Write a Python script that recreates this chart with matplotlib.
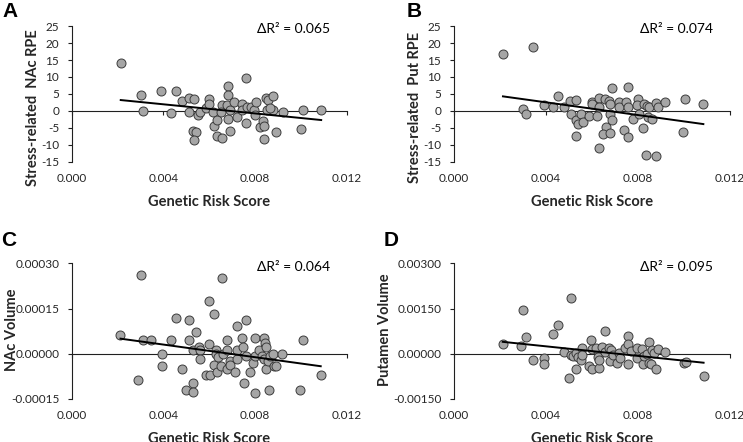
import matplotlib.pyplot as plt
import numpy as np
from matplotlib.ticker import FormatStrFormatter

plt.rcParams['font.family'] = ['Lato', 'DejaVu Sans']

# panel A: stress-related NAc RPE
a_x = [0.00214, 0.00303, 0.00313, 0.00391, 0.00433, 0.00454, 0.00480, 0.00510, 0.00512, 0.00532,
       0.00528, 0.00544, 0.00532, 0.00551, 0.00560, 0.00586, 0.00601, 0.00601, 0.00618, 0.00623,
       0.00636, 0.00633, 0.00655, 0.00657, 0.00650, 0.00681, 0.00681, 0.00679, 0.00681, 0.00692,
       0.00691, 0.00710, 0.00721, 0.00742, 0.00745, 0.00761, 0.00761, 0.00764, 0.00783, 0.00797,
       0.00800, 0.00803, 0.00822, 0.00833, 0.00840, 0.00839, 0.00848, 0.00858, 0.00851, 0.00880,
       0.00880, 0.00890, 0.00921, 0.01001, 0.01011, 0.01089, 0.00865]
a_y = [14.2, 4.6, -0.1, 5.9, -0.5, 6.0, 2.8, 3.9, -0.2, 3.4,
       -6.0, -6.1, -8.5, -1.3, -0.3, 0.9, 3.4, 1.9, -0.3, -4.5,
       -2.8, -7.5, -8.0, 1.7, -0.3, 7.3, 4.8, 1.6, -2.5, -6.0,
       0.2, 2.5, -1.8, 1.9, 0.4, 9.8, -3.5, 1.0, 1.2, 0.2,
       -1.3, 2.5, -4.8, -2.9, -4.4, -8.4, 3.9, 3.3, 0.4, 4.4,
       0.2, -6.3, -0.3, -5.4, 0.2, 0.2, 0.8]

# panel B: stress-related Put RPE
b_x = [0.00214, 0.00344, 0.00301, 0.00313, 0.00390, 0.00431, 0.00451, 0.00479, 0.00507, 0.00531,
       0.00510, 0.00531, 0.00532, 0.00540, 0.00551, 0.00560, 0.00587, 0.00599, 0.00600, 0.00621,
       0.00631, 0.00631, 0.00632, 0.00657, 0.00660, 0.00649, 0.00675, 0.00677, 0.00677, 0.00678,
       0.00689, 0.00687, 0.00716, 0.00719, 0.00740, 0.00748, 0.00757, 0.00757, 0.00757, 0.00777,
       0.00799, 0.00796, 0.00803, 0.00821, 0.00828, 0.00835, 0.00840, 0.00844, 0.00850, 0.00859,
       0.00878, 0.00878, 0.00888, 0.00918, 0.00996, 0.01006, 0.01084]
b_y = [16.7, 18.9, 0.7, -1.0, 1.6, 1.0, 4.4, 1.2, 2.9, 3.3,
       -1.0, -2.8, -7.5, -3.9, -0.9, -3.3, -1.6, 2.7, 2.0, -1.6,
       3.9, 1.2, -11.0, 3.6, -4.7, -6.9, 2.9, 2.0, -0.8, -6.4,
       6.8, -2.8, 2.5, 1.0, -5.5, 2.5, 7.1, 1.2, -7.7, -2.3,
       3.4, 1.7, -0.8, -4.9, 2.0, -12.9, 1.4, -1.8, 1.2, -2.3,
       2.2, -13.2, 1.0, 2.7, -6.1, 3.6, 2.0]

# panel C: NAc volume (units of 1e-5)
c_x = [0.00213, 0.00302, 0.00290, 0.00312, 0.00344, 0.00392, 0.00392, 0.00432, 0.00454, 0.00480,
       0.00501, 0.00512, 0.00512, 0.00531, 0.00531, 0.00530, 0.00544, 0.00554, 0.00560, 0.00560,
       0.00588, 0.00600, 0.00600, 0.00603, 0.00620, 0.00623, 0.00631, 0.00631, 0.00634, 0.00640,
       0.00657, 0.00650, 0.00660, 0.00679, 0.00679, 0.00679, 0.00689, 0.00691, 0.00711, 0.00721,
       0.00721, 0.00721, 0.00743, 0.00750, 0.00748, 0.00759, 0.00759, 0.00779, 0.00791, 0.00799,
       0.00799, 0.00798, 0.00819, 0.00831, 0.00838, 0.00838, 0.00845, 0.00848, 0.00848, 0.00856,
       0.00860, 0.00866, 0.00878, 0.00881, 0.00892, 0.00918, 0.00998, 0.01008, 0.01087]
c_y = [6.1, 26.1, -8.8, 4.4, 4.4, 0.0, -3.9, 4.4, 11.9, -4.9,
       -12.1, 11.3, 4.4, -9.8, -12.8, 1.1, 7.2, 2.2, 1.4, -1.7,
       -6.9, 17.4, 3.1, -6.9, 13.1, -3.8, 1.1, -0.2, -6.1, -1.1,
       25.0, -4.1, -0.2, 4.4, 1.1, -5.0, -2.4, -3.8, -6.1, 9.1,
       1.4, -1.7, 5.2, -9.8, 2.2, 11.3, -0.8, -6.1, -3.0, 5.3,
       -12.9, -0.8, 1.1, -0.8, 5.3, -1.7, 3.6, 2.2, -5.0, -2.4,
       -12.1, -0.8, 0.0, -3.9, -3.9, 0.0, -12.1, 4.4, -6.9]

# panel D: putamen volume (units of 1e-4)
d_x = [0.00213, 0.00291, 0.00301, 0.00312, 0.00343, 0.00390, 0.00390, 0.00431, 0.00451, 0.00477,
       0.00499, 0.00509, 0.00508, 0.00518, 0.00531, 0.00531, 0.00541, 0.00554, 0.00557, 0.00557,
       0.00586, 0.00597, 0.00600, 0.00600, 0.00620, 0.00626, 0.00629, 0.00632, 0.00646, 0.00658,
       0.00658, 0.00675, 0.00677, 0.00684, 0.00690, 0.00707, 0.00716, 0.00723, 0.00745, 0.00756,
       0.00756, 0.00756, 0.00771, 0.00795, 0.00795, 0.00817, 0.00824, 0.00828, 0.00840, 0.00846,
       0.00849, 0.00860, 0.00857, 0.00869, 0.00878, 0.00887, 0.00918, 0.00998, 0.01008, 0.01085]
d_y = [3.3, 2.7, 14.5, 5.5, -2.2, -1.3, -3.5, 6.6, 9.7, 0.6,
       -8.0, 18.6, -0.4, -0.8, -5.2, 0.3, -1.1, -2.2, 2.0, -0.4,
       -3.9, 4.5, -4.9, 1.5, 1.8, -1.1, -4.6, -2.2, 2.4, 7.5,
       0.6, 2.0, -2.4, 1.1, -0.4, -3.0, 0.3, -1.3, 2.0, 5.9,
       3.3, -3.5, 0.9, 2.0, -1.3, 1.7, -3.5, -0.8, 0.0, 4.0,
       -3.0, 1.1, -3.5, 0.3, -5.2, 1.7, 0.7, -3.0, -2.7, -7.4]

panels = [
    dict(x=a_x, y=np.array(a_y), scale=1, letter='A', ylabel='Stress-related  NAc RPE', r2='0.065',
         yticks=[-15, -10, -5, 0, 5, 10, 15, 20, 25], fmt='%d', rect=[0.0965, 0.634, 0.370, 0.307],
         ylab_pos=(-0.115, 0.40), letter_pos=(0.003, 0.995)),
    dict(x=b_x, y=np.array(b_y), scale=1, letter='B', ylabel='Stress-related  Put RPE', r2='0.074',
         yticks=[-15, -10, -5, 0, 5, 10, 15, 20, 25], fmt='%d', rect=[0.6106, 0.634, 0.372, 0.307],
         ylab_pos=(-0.115, 0.40), letter_pos=(0.547, 0.995)),
    dict(x=c_x, y=np.array(c_y), scale=1e-5, letter='C', ylabel='NAc Volume', r2='0.064',
         yticks=[-0.00015, 0, 0.00015, 0.0003], fmt='%.5f', rect=[0.0965, 0.0973, 0.370, 0.307],
         ylab_pos=(-0.19, 0.508), letter_pos=(0.002, 0.478)),
    dict(x=d_x, y=np.array(d_y), scale=1e-4, letter='D', ylabel='Putamen Volume', r2='0.095',
         yticks=[-0.0015, 0, 0.0015, 0.003], fmt='%.5f', rect=[0.6106, 0.0973, 0.372, 0.307],
         ylab_pos=(-0.223, 0.508), letter_pos=(0.516, 0.478)),
]

xticks = [0.0, 0.004, 0.008, 0.012]
ink = '#262626'

fig = plt.figure(figsize=(7.43, 4.42), dpi=100)

for p in panels:
    ax = fig.add_axes(p['rect'])
    xs = np.array(p['x'])
    ys = p['y'] * p['scale']
    ax.scatter(xs, ys, s=42, facecolor='#a6a6a6', edgecolor='#3c3c3c', linewidth=0.7, zorder=3)
    k, b = np.polyfit(xs, ys, 1)
    xl = np.array([xs.min(), xs.max()])
    ax.plot(xl, k * xl + b, color='black', lw=1.4, zorder=4)

    ax.set_xlim(0, 0.012)
    ax.set_ylim(p['yticks'][0], p['yticks'][-1])
    ax.spines['top'].set_visible(False)
    ax.spines['right'].set_visible(False)
    ax.spines['bottom'].set_position(('data', 0))
    for s in ('left', 'bottom'):
        ax.spines[s].set_linewidth(0.8)
        ax.spines[s].set_color('#202020')
    ax.set_xticks(xticks)
    ax.tick_params(axis='x', labelbottom=False, length=3, width=0.8, color='#202020')
    ax.set_yticks(p['yticks'])
    ax.yaxis.set_major_formatter(FormatStrFormatter(p['fmt']))
    ax.tick_params(axis='y', length=3, width=0.8, color='#202020', pad=6, labelsize=8.5,
                   labelcolor=ink)
    ax.set_ylabel(p['ylabel'], fontsize=10.5, fontweight='bold', color=ink)
    ax.yaxis.set_label_coords(*p['ylab_pos'])

    sec = ax.secondary_xaxis(0)
    sec.spines['bottom'].set_visible(False)
    sec.set_xticks(xticks)
    sec.xaxis.set_major_formatter(FormatStrFormatter('%.3f'))
    sec.tick_params(length=0, pad=8, labelsize=8.5, labelcolor=ink)
    sec.set_xlabel('Genetic Risk Score', fontsize=10.5, fontweight='bold', color=ink, labelpad=8)

    ax.text(0.675, 0.975, '\u0394R\u00b2 = ' + p['r2'], transform=ax.transAxes, ha='left',
            va='center', fontsize=10, color='black')
    fig.text(p['letter_pos'][0], p['letter_pos'][1], p['letter'], ha='left', va='top',
             fontsize=15, fontweight='bold', family='Liberation Sans')

fig.savefig('out.png', dpi=100)
